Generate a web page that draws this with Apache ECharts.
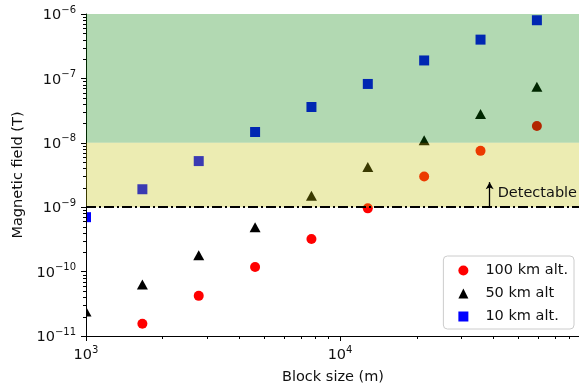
<!DOCTYPE html>
<html>
<head>
<meta charset="utf-8">
<script src="https://cdn.jsdelivr.net/npm/echarts@6/dist/echarts.min.js"></script>
<style>
  html, body { margin: 0; padding: 0; background: #fff; }
  #chart { width: 579px; height: 383px; }
</style>
</head>
<body>
<div id="chart"></div>
<script>
// block sizes (m), each step is ~5/3 of the last
const blockSizes = [1000, 1667, 2778, 4630, 7716, 12860, 21433, 35722, 59537];
// field at each block size (T); null = below the plot
const alt100 = [null, 1.55e-11, 4.2e-11, 1.18e-10, 3.2e-10, 9.6e-10, 3.0e-9, 7.5e-9, 1.82e-8];
const alt50  = [2.4e-11, 6.3e-11, 1.8e-10, 4.9e-10, 1.5e-9, 4.2e-9, 1.1e-8, 2.8e-8, 7.4e-8];
const alt10  = [7.0e-10, 1.9e-9, 5.2e-9, 1.47e-8, 3.6e-8, 8.2e-8, 1.9e-7, 4.0e-7, 8.0e-7];

const seriesNames = ["100 km alt.", "50 km alt", "10 km alt."];
const xRange = [1000, 88000];
const yRange = [1e-11, 1e-6];
const detectLimit = 1e-9;
const bandYellow = [1e-9, 1e-8];
const bandGreen = [1e-8, 1e-6];
const arrowX = 38800;
const arrowTop = 2.45e-9;

const FONT = "DejaVu Sans";
const pairs = arr => blockSizes.map((x, i) => [x, arr[i]]).filter(d => d[1] != null);

const powLabel = v => {
  const e = Math.round(Math.log10(v));
  if (Math.abs(Math.log10(v) - e) > 1e-6) return "";
  return `{b|10}{e|${String(e).replace("-", "\u2212")}}`;
};
const rich = {
  b: { fontFamily: FONT, fontSize: 14.5, color: "#111", verticalAlign: "bottom" },
  e: { fontFamily: FONT, fontSize: 10, color: "#111", verticalAlign: "bottom", padding: [0, 0, 8, 0] },
};

const chart = echarts.init(document.getElementById("chart"));

chart.setOption({
  animation: false,
  grid: { left: 86, top: 14, width: 494, height: 322, show: false, outerBoundsMode: "none", containLabel: false },
  xAxis: {
    type: "log", logBase: 10, min: xRange[0], max: xRange[1], z: 5,
    name: "Block size (m)", nameLocation: "middle", nameGap: 34,
    nameTextStyle: { fontFamily: FONT, fontSize: 14.5, color: "#111" },
    axisLine: { show: true, lineStyle: { color: "#000", width: 1 } },
    axisTick: { show: true, length: 5, lineStyle: { color: "#000" } },
    axisLabel: { margin: 9, formatter: powLabel, rich },
    splitLine: { show: false },
  },
  yAxis: {
    type: "log", logBase: 10, min: yRange[0], max: yRange[1], z: 5,
    name: "Magnetic field (T)", nameLocation: "middle", nameGap: 53,
    nameTextStyle: { fontFamily: FONT, fontSize: 14.5, color: "#111" },
    axisLine: { show: true, lineStyle: { color: "#000", width: 1 } },
    axisTick: { show: true, length: 5, lineStyle: { color: "#000" } },
    axisLabel: { margin: 10, formatter: powLabel, rich },
    splitLine: { show: false },
  },
  legend: {
    orient: "vertical", right: 5, bottom: 54,
    selectedMode: false,
    itemWidth: 10, itemHeight: 10, itemGap: 8,
    padding: [7, 6, 5, 15],
    backgroundColor: "rgba(255,255,255,0.8)",
    borderColor: "#cccccc", borderWidth: 1, borderRadius: 4,
    textStyle: { fontFamily: FONT, fontSize: 14.5, color: "#111", lineHeight: 14, padding: [0, 0, 0, 12] },
    data: [
      { name: seriesNames[0], icon: "circle", itemStyle: { color: "#ff0000" } },
      { name: seriesNames[1], icon: "triangle", itemStyle: { color: "#000000" } },
      { name: seriesNames[2], icon: "rect", itemStyle: { color: "#0000ff" } },
    ],
  },
  series: [
    { name: seriesNames[0], type: "scatter", symbol: "circle", symbolSize: 10, z: 2,
      itemStyle: { color: "#ff0000", opacity: 1 }, data: pairs(alt100) },
    { name: seriesNames[1], type: "scatter", symbol: "triangle", symbolSize: [11, 10], z: 2,
      itemStyle: { color: "#000000", opacity: 1 }, data: pairs(alt50) },
    { name: seriesNames[2], type: "scatter", symbol: "rect", symbolSize: 10, z: 2,
      itemStyle: { color: "#0000ff", opacity: 1 }, data: pairs(alt10) },
    {
      name: "bands", type: "line", data: [], z: 10, silent: true,
      markArea: {
        silent: true, z: 10,
        data: [
          [{ yAxis: bandGreen[0], itemStyle: { color: "rgba(0,128,0,0.3)" } }, { yAxis: bandGreen[1] }],
          [{ yAxis: bandYellow[0], itemStyle: { color: "rgba(191,191,0,0.3)" } }, { yAxis: bandYellow[1] }],
        ],
      },
    },
    {
      name: "guide", type: "line", data: [], z: 11, silent: true,
      markLine: {
        silent: true, z: 11, symbol: ["none", "none"], label: { show: false },
        data: [
          [
            { coord: [xRange[0], detectLimit], symbol: "none", lineStyle: { color: "#000", width: 2, type: [10, 3, 2, 3] } },
            { coord: [xRange[1], detectLimit], symbol: "none" },
          ],
          [
            { coord: [arrowX, detectLimit], symbol: "none", lineStyle: { color: "#000", width: 1.3, type: "solid" } },
            { coord: [arrowX, arrowTop], symbol: "arrow", symbolSize: [6, 7] },
          ],
        ],
      },
      markPoint: {
        silent: true, z: 11, symbol: "circle", symbolSize: 0,
        label: { show: true, position: "right", distance: 8, formatter: "Detectable",
                 fontFamily: FONT, fontSize: 14.5, color: "#111" },
        data: [{ coord: [arrowX, 1.62e-9] }],
      },
    },
  ],
});

// matplotlib-style minor ticks at 2..9 x 10^n, plus a mask that clips
// markers at the left edge of the axes, placed through the axis scales
function decorations() {
  const xMinor = [];
  for (let n = 3; n <= 4; n++) for (let k = 2; k <= 9; k++) if (k * 10 ** n < xRange[1]) xMinor.push(k * 10 ** n);
  const yMinor = [];
  for (let n = -11; n <= -7; n++) for (let k = 2; k <= 9; k++) yMinor.push(k * 10 ** n);
  const yBase = chart.convertToPixel({ yAxisIndex: 0 }, yRange[0]);
  const yTop = chart.convertToPixel({ yAxisIndex: 0 }, yRange[1]);
  const xBase = chart.convertToPixel({ xAxisIndex: 0 }, xRange[0]);
  const els = [{
    type: "rect", silent: true, z: 3,
    shape: { x: xBase - 12, y: yTop - 8, width: 12, height: yBase - yTop + 16 },
    style: { fill: "#fff" },
  }];
  xMinor.forEach(v => {
    const px = Math.round(chart.convertToPixel({ xAxisIndex: 0 }, v)) + 0.5;
    els.push({ type: "line", silent: true, z: 6, shape: { x1: px, y1: yBase, x2: px, y2: yBase + 3 },
               style: { stroke: "#000", lineWidth: 1 } });
  });
  yMinor.forEach(v => {
    const py = Math.round(chart.convertToPixel({ yAxisIndex: 0 }, v)) + 0.5;
    els.push({ type: "line", silent: true, z: 6, shape: { x1: xBase - 3, y1: py, x2: xBase, y2: py },
               style: { stroke: "#000", lineWidth: 1 } });
  });
  chart.setOption({ graphic: els });
}
decorations();
</script>
</body>
</html>
